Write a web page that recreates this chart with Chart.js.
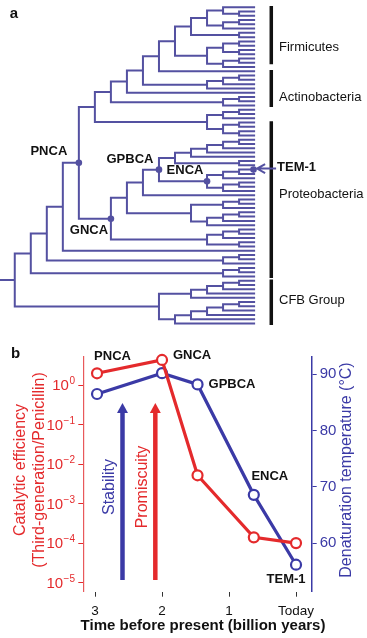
<!DOCTYPE html>
<html>
<head>
<meta charset="utf-8">
<script src="https://cdn.jsdelivr.net/npm/chart.js@4.4.1/dist/chart.umd.min.js"></script>
<style>
  html, body { margin: 0; padding: 0; background: #fff; width: 367px; height: 638px; overflow: hidden; }
  canvas { position: absolute; left: 0; display: block; }
  #tree { top: 0; }
  #plot { top: 335px; }
</style>
</head>
<body>
<canvas id="tree" width="367" height="335"></canvas>
<canvas id="plot" width="367" height="303"></canvas>
<script>
// --- Panel a: tree topology (Newick, unnamed leaves) --- //
const firmicutes = '((((,(,)),((,),)),(,)),(((,),(,)),((,),)))';
const actino = '(((,),),)';
const proteoUpper = '(((,),),((,),(,)))';
const gpbcaUpper = '(((((,),),),),(,))';
const encaClade = '(((TEM-1,),),((,),))';
const gncaLower = '(((,),),(((,),),))';
const proteoLower = '(((,),),(,))';
const cfbClade = '(((((,),),),),(((((,),),),),))';

const innerTree = `(((((${firmicutes},),${actino}),),((,),)),${proteoUpper})`;
const gncaTree = `((((${gpbcaUpper},${encaClade}ENCA)GPBCA,),${gncaLower}),${proteoLower})GNCA`;
const treeNewick = `((((((${innerTree},${gncaTree})PNCA,),((,),)),((,),)),${cfbClade})`;

const groupNames = ['Firmicutes', 'Actinobacteria', 'Proteobacteria', 'CFB Group'];
const groupFirstTip = [0, 15, 27, 64];
const groupLastTip = [13, 23, 63, 74];
const markedNodes = ['PNCA', 'GNCA', 'GPBCA', 'ENCA', 'TEM-1'];

// --- Panel b: data --- //
const nodeNames = ['PNCA', 'GNCA', 'GPBCA', 'ENCA', 'TEM-1'];
const timeBya = [2.97, 2.0, 1.47, 0.63, 0.0];
const catalyticEff = [1.98, 4.3, 5.2e-3, 1.4e-4, 1.0e-4];
const denatTemp = [86.5, 90.2, 88.2, 68.6, 56.2];
const effTicks = [1e-5, 1e-4, 1e-3, 1e-2, 1e-1, 1];
const tempTicks = [60, 70, 80, 90];
const timeTicks = [3, 2, 1, 0];
const timeTickLabels = ['3', '2', '1', 'Today'];
const arrowNames = ['Stability', 'Promiscuity'];
const arrowTime = [2.59, 2.1];

const fam = '"Liberation Sans", Arial, Helvetica, sans-serif';
Chart.defaults.font.family = fam;
const treeBlue = '#5451a1';
const red = '#e42a2c';
const blue = '#3b3aa6';

// --- Tree layout --- //
function parseNewick(s) {
    let pos = 0;
    function node() {
        const n = { children: [], name: '' };
        if (s[pos] === '(') {
            pos++;
            n.children.push(node());
            while (s[pos] === ',') { pos++; n.children.push(node()); }
            pos++; // ')'
        }
        while (pos < s.length && !'(),'.includes(s[pos])) n.name += s[pos++];
        return n;
    }
    return node();
}

const root = parseNewick(treeNewick);
const internalNodes = [];
const namedNodes = {};
let nextTip = 0;
function place(n) {
    if (!n.children.length) {
        n.h = 0;
        n.y = nextTip++;
    } else {
        n.children.forEach(place);
        n.h = 1 + Math.max(...n.children.map(c => c.h));
        n.y = (n.children[0].y + n.children[n.children.length - 1].y) / 2;
        internalNodes.push(n);
    }
    n.x = -n.h;
    if (n.name) namedNodes[n.name] = n;
}
place(root);

const branchSets = internalNodes.map(n => {
    const a = n.children[0], b = n.children[n.children.length - 1];
    return {
        data: [{ x: a.x, y: a.y }, { x: n.x, y: a.y }, { x: n.x, y: b.y }, { x: b.x, y: b.y }],
        showLine: true, borderColor: treeBlue, borderWidth: 2, pointRadius: 0, clip: false, tension: 0
    };
});

const barSets = groupNames.map((g, i) => ({
    data: [{ x: 1.01, y: groupFirstTip[i] - 0.3 }, { x: 1.01, y: groupLastTip[i] + 0.35 }],
    showLine: true, borderColor: '#111', borderWidth: 3.5, pointRadius: 0, clip: false
}));

const rootStub = {
    data: [{ x: root.x - 0.7, y: root.y }, { x: root.x, y: root.y }],
    showLine: true, borderColor: '#111', borderWidth: 2, pointRadius: 0, clip: false
};

const dotSet = {
    data: markedNodes.map(k => ({ x: namedNodes[k].x - (k === 'TEM-1' ? 0.1 : 0), y: namedNodes[k].y })),
    pointRadius: 3.3, pointBackgroundColor: treeBlue, pointBorderWidth: 0, showLine: false, clip: false
};

// label offsets (px) from each marked node
const treeLabelOffset = { 'PNCA': [-30, -11], 'GNCA': [-22, 12], 'GPBCA': [-29, -10], 'ENCA': [-22, -11] };
const groupLabelRow = [9.5, 21, 43.8, 68.5];

const treeNotes = {
    id: 'treeNotes',
    afterDatasetsDraw(chart) {
        const { ctx, scales: { x, y } } = chart;
        ctx.save();
        ctx.fillStyle = '#111';
        ctx.font = 'bold 15px ' + fam;
        ctx.textAlign = 'center';
        ctx.textBaseline = 'middle';
        ctx.fillText('a', 14, 14);

        ctx.font = '13px ' + fam;
        ctx.textAlign = 'left';
        groupNames.forEach((g, i) => ctx.fillText(g, 279, y.getPixelForValue(groupLabelRow[i])));

        ctx.font = 'bold 13px ' + fam;
        ctx.textAlign = 'center';
        Object.keys(treeLabelOffset).forEach(k => {
            const n = namedNodes[k];
            const [dx, dy] = treeLabelOffset[k];
            ctx.fillText(k, x.getPixelForValue(n.x) + dx, y.getPixelForValue(n.y) + dy);
        });

        // TEM-1 arrow
        const t = namedNodes['TEM-1'];
        const px = x.getPixelForValue(t.x), py = y.getPixelForValue(t.y) - 1;
        ctx.strokeStyle = treeBlue;
        ctx.lineWidth = 2;
        ctx.beginPath();
        ctx.moveTo(px + 2, py); ctx.lineTo(px + 21, py);
        ctx.moveTo(px + 10, py - 4.5); ctx.lineTo(px + 2, py); ctx.lineTo(px + 10, py + 4.5);
        ctx.stroke();
        ctx.textAlign = 'left';
        ctx.fillText('TEM-1', px + 22, py - 1.5);
        ctx.restore();
    }
};

new Chart(document.getElementById('tree'), {
    type: 'scatter',
    data: { datasets: [...branchSets, rootStub, ...barSets, dotSet] },
    options: {
        responsive: false,
        animation: false,
        events: [],
        layout: { padding: 0 },
        plugins: { legend: { display: false }, tooltip: { enabled: false } },
        scales: {
            x: { type: 'linear', display: false, min: -15.672, max: 6.734 },
            y: { type: 'linear', display: false, reverse: true, min: -0.754, max: 75.77 }
        }
    },
    plugins: [treeNotes]
});

// --- Panel b: chart --- //
const pointLabelSeries = [0, 0, 1, 1, 1];
const pointLabelOffset = [[15.5, -16.5], [30, -5], [34.5, 0], [16, -18.5], [-10, 15]];

function vText(ctx, text, x, y, font, color) {
    ctx.save();
    ctx.translate(x, y);
    ctx.rotate(-Math.PI / 2);
    ctx.font = font;
    ctx.fillStyle = color;
    ctx.textAlign = 'center';
    ctx.textBaseline = 'middle';
    ctx.fillText(text, 0, 0);
    ctx.restore();
}

const plotNotes = {
    id: 'plotNotes',
    afterDraw(chart) {
        const { ctx, scales } = chart;
        const xs = scales.x, ys = scales.y;
        ctx.save();

        // log tick labels with superscript exponents
        effTicks.forEach(v => {
            const py = ys.getPixelForValue(v);
            const e = Math.round(Math.log10(v));
            const exp = e < 0 ? '\u2212' + Math.abs(e) : String(e);
            ctx.fillStyle = red;
            ctx.textAlign = 'right';
            ctx.font = '10px ' + fam;
            ctx.textBaseline = 'alphabetic';
            ctx.fillText(exp, 75, py - 1);
            const w = ctx.measureText(exp).width;
            ctx.font = '15px ' + fam;
            ctx.textBaseline = 'middle';
            ctx.fillText('10', 75 - w - 0.5, py + 1);
        });

        // stability / promiscuity arrows
        arrowNames.forEach((name, i) => {
            const c = i === 0 ? blue : red;
            const px = xs.getPixelForValue(arrowTime[i]);
            const top = ys.getPixelForValue(0.35), bot = ys.getPixelForValue(1.17e-5);
            ctx.strokeStyle = c;
            ctx.fillStyle = c;
            ctx.lineWidth = 4.5;
            ctx.beginPath();
            ctx.moveTo(px, bot); ctx.lineTo(px, top + 8);
            ctx.stroke();
            ctx.beginPath();
            ctx.moveTo(px, top); ctx.lineTo(px - 5.5, top + 10); ctx.lineTo(px + 5.5, top + 10);
            ctx.closePath();
            ctx.fill();
            vText(ctx, name, px - 13, 152, '16px ' + fam, c);
        });

        // point labels
        ctx.fillStyle = '#111';
        ctx.font = 'bold 13px ' + fam;
        ctx.textAlign = 'center';
        ctx.textBaseline = 'middle';
        nodeNames.forEach((n, i) => {
            const el = chart.getDatasetMeta(pointLabelSeries[i]).data[i];
            ctx.fillText(n, el.x + pointLabelOffset[i][0], el.y + pointLabelOffset[i][1]);
        });

        // panel letter and axis titles
        ctx.font = 'bold 15px ' + fam;
        ctx.fillText('b', 15.5, 19);
        vText(ctx, 'Catalytic efficiency', 21, 135, '16px ' + fam, red);
        vText(ctx, '(Third-generation/Penicillin)', 39.5, 135, '16px ' + fam, red);
        vText(ctx, 'Denaturation temperature (\u00B0C)', 347, 135, '16px ' + fam, blue);
        ctx.fillStyle = '#111';
        ctx.font = 'bold 15px ' + fam;
        ctx.textAlign = 'center';
        ctx.fillText('Time before present (billion years)', 203, 291);
        ctx.restore();
    }
};

new Chart(document.getElementById('plot'), {
    type: 'scatter',
    data: {
        datasets: [
            {
                label: 'Catalytic efficiency',
                data: timeBya.map((t, i) => ({ x: t, y: catalyticEff[i] })),
                yAxisID: 'y',
                showLine: true,
                borderColor: red,
                borderWidth: 3.2,
                pointRadius: 5,
                pointBorderWidth: 2.2,
                pointBackgroundColor: '#fff',
                pointBorderColor: red,
                order: 0,
                clip: false
            },
            {
                label: 'Denaturation temperature',
                data: timeBya.map((t, i) => ({ x: t, y: denatTemp[i] })),
                yAxisID: 'y2',
                showLine: true,
                borderColor: blue,
                borderWidth: 3.2,
                pointRadius: 5,
                pointBorderWidth: 2.2,
                pointBackgroundColor: '#fff',
                pointBorderColor: blue,
                order: 1,
                clip: false
            }
        ]
    },
    options: {
        responsive: false,
        animation: false,
        events: [],
        layout: { padding: { top: 21.7, left: 0, right: 0, bottom: 0 } },
        plugins: { legend: { display: false }, tooltip: { enabled: false } },
        scales: {
            x: {
                type: 'linear',
                reverse: true,
                min: -0.234,
                max: 3.175,
                afterBuildTicks: s => { s.ticks = timeTicks.map(v => ({ value: v })); },
                afterFit: s => { s.height = 46.3; },
                ticks: {
                    color: '#111',
                    font: { size: 13.5 },
                    padding: 6,
                    maxRotation: 0,
                    callback: v => timeTickLabels[timeTicks.indexOf(v)]
                },
                grid: { display: true, drawOnChartArea: false, drawTicks: true, tickLength: 5, color: '#333' },
                border: { display: false }
            },
            y: {
                type: 'logarithmic',
                position: 'left',
                min: 5.9e-6,
                max: 5.2,
                afterBuildTicks: s => { s.ticks = effTicks.map(v => ({ value: v })); },
                afterFit: s => { s.width = 83.3; },
                ticks: { display: false },
                grid: { display: true, drawOnChartArea: false, drawTicks: true, tickLength: 5, color: red },
                border: { display: true, color: '#e8595b', width: 1.2 }
            },
            y2: {
                type: 'linear',
                position: 'right',
                min: 51.41,
                max: 93.12,
                afterBuildTicks: s => { s.ticks = tempTicks.map(v => ({ value: v })); },
                afterFit: s => { s.width = 55.3; },
                ticks: { color: blue, font: { size: 15 }, padding: 3 },
                grid: { display: true, drawOnChartArea: false, drawTicks: true, tickLength: 5, color: blue },
                border: { display: true, color: blue, width: 1.5 }
            }
        }
    },
    plugins: [plotNotes]
});
</script>
</body>
</html>
